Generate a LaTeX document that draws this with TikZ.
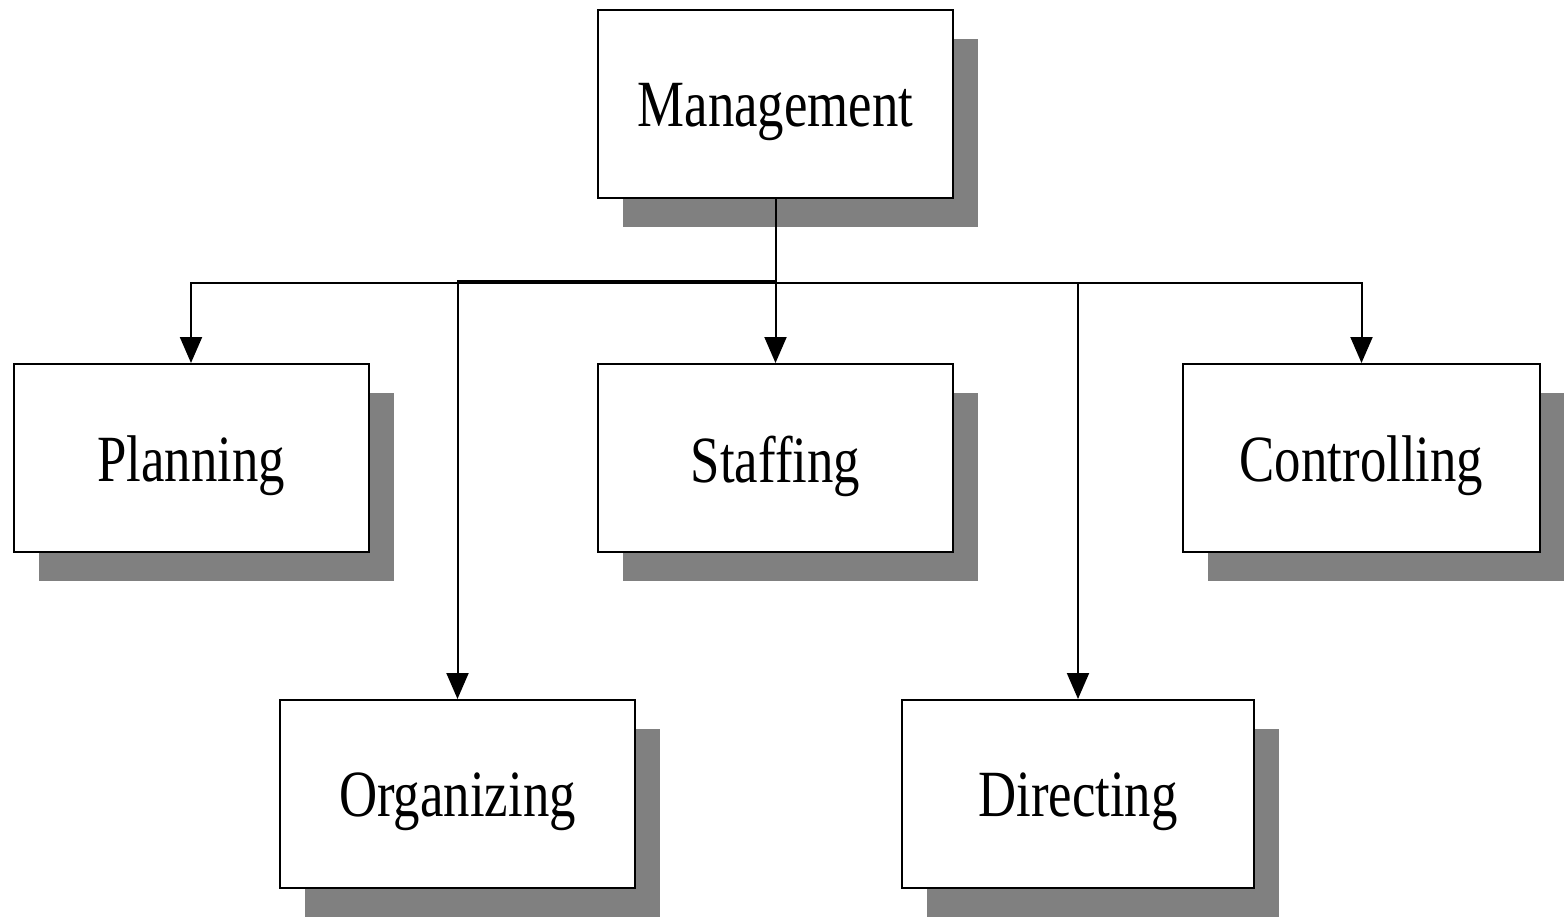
\documentclass[tikz,border=0pt]{standalone}
\usepackage{fontspec}
\setmainfont{Liberation Serif}
\usetikzlibrary{arrows.meta,shadows}
\definecolor{shadowgray}{HTML}{808080}
\tikzset{
  box/.style={draw=black, line width=2pt, fill=white, minimum width=355pt,
    minimum height=188pt, inner sep=0pt,
    drop shadow={shadow xshift=25pt, shadow yshift=-29pt, fill=shadowgray, opacity=1},
    font=\fontsize{66}{70}\selectfont},
  conn/.style={line width=2pt, -{Triangle[width=22pt,length=26pt]}},
  plain/.style={line width=2pt}
}
\newcommand{\lbl}[1]{\raisebox{-8pt}[\height][\depth]{\scalebox{0.8}[1]{#1}}}
\begin{document}
\begin{tikzpicture}[x=1pt,y=-1pt]
\useasboundingbox (0,0) rectangle (1564,918);
\node[box] (m) at (775.5,104) {\lbl{Management}};
\node[box] (p) at (191,458) {\lbl{Planning}};
\node[box] (s) at (775.5,458) {\lbl{Staffing}};
\node[box, minimum width=357pt] (c) at (1361.5,458) {\lbl{Controlling}};
\node[box] (o) at (457.5,794) {\lbl{Organizing}};
\node[box, minimum width=352pt] (d) at (1078,794) {\lbl{Directing}};
\coordinate (bus) at (776,283);
\coordinate (obus) at (776,281);
\draw[plain] (m.south) -- (m.south |- bus);
\draw[conn] (m.south |- bus) -| (p.north);
\draw[conn] (m.south |- bus) -| (c.north);
\draw[conn] (m.south |- bus) -| (d.north);
\draw[conn] (m.south) -- (s.north);
\draw[conn] (m.south |- obus) -| (o.north);
\end{tikzpicture}
\end{document}
